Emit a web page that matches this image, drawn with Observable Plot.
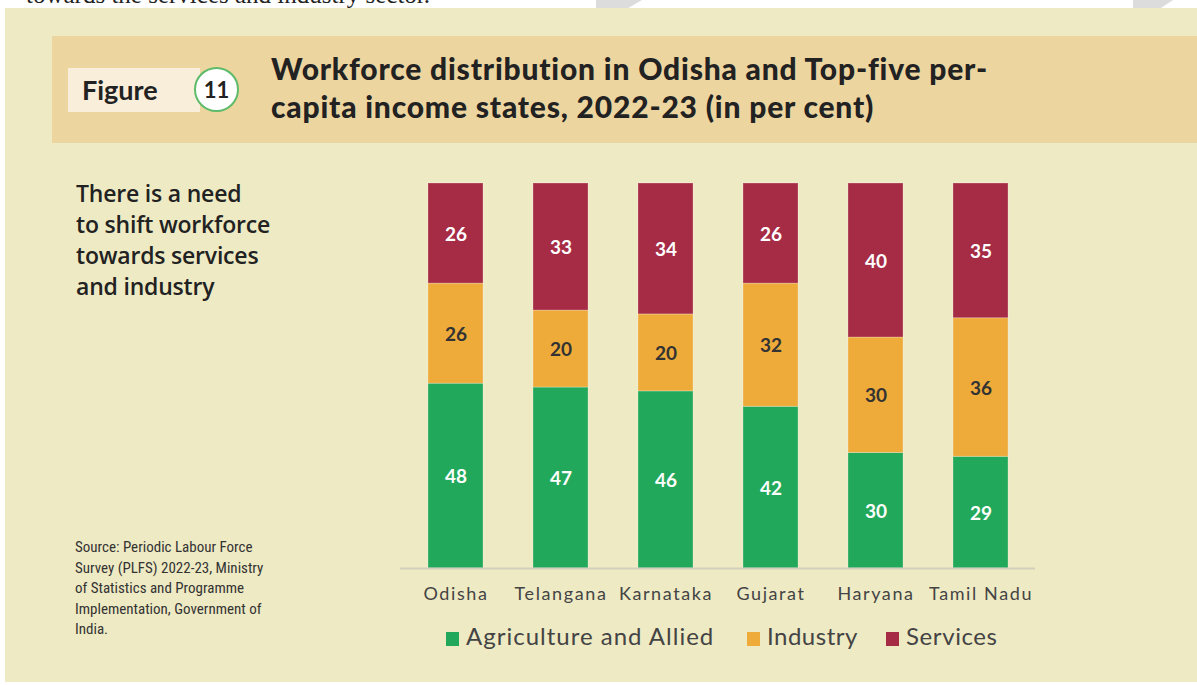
<!DOCTYPE html>
<html>
<head>
<meta charset="utf-8">
<script src="https://cdn.jsdelivr.net/npm/d3@7"></script>
<script src="https://cdn.jsdelivr.net/npm/@observablehq/plot@0.6"></script>
<style>
  html, body { margin: 0; padding: 0; background: #ffffff; }
  #page { position: relative; width: 1197px; height: 685px; overflow: hidden; background: #ffffff; }
  #topstrip { position: absolute; left: 0; top: 0; width: 1197px; height: 8px; overflow: hidden; }
  #topstrip .t { position: absolute; left: 26px; top: -19px; font-family: "Liberation Serif", serif; font-size: 25px; color: #222; white-space: nowrap; }
  .grey { position: absolute; top: 0; height: 8px; background: #dcdcdc; }
  #panel { position: absolute; left: 5px; top: 8px; width: 1192px; height: 674px; background: #EEEAC4; }
  #band { position: absolute; left: 52px; top: 36px; width: 1145px; height: 107px; background: #EDD5A0; }
  #figbox { position: absolute; left: 68px; top: 68px; width: 132px; height: 44px; background: #F9EEDA; }
  #figbox span { position: absolute; left: 14px; top: 5px; font-family: "Lato", sans-serif; font-weight: 700; font-size: 27px; color: #222; }
  #circle { position: absolute; left: 194px; top: 67px; width: 41px; height: 41px; border: 2px solid #5DBB6A; border-radius: 50%; background: #ffffff; text-align: center; line-height: 41px; font-family: "Lato", sans-serif; font-weight: 700; font-size: 22px; color: #222; }
  #title { position: absolute; left: 271px; top: 49px; font-family: "Lato", sans-serif; font-weight: 900; font-size: 30px; line-height: 38px; color: #222; letter-spacing: 0.8px; white-space: nowrap; }
  #note { position: absolute; left: 76px; top: 178px; font-family: "Open Sans", sans-serif; font-weight: 600; font-size: 23px; line-height: 31px; color: #222; letter-spacing: -0.2px; }
  #source { position: absolute; left: 75px; top: 537px; font-family: "Liberation Sans Narrow", "Roboto Condensed", "Liberation Sans", sans-serif; font-stretch: condensed; font-size: 15px; line-height: 20.6px; color: #333; }
  #chart { position: absolute; left: 380px; top: 170px; }
  #chart g[aria-label="x-axis tick label"] { letter-spacing: 1.6px; }
  #legend { position: absolute; left: 0; top: 621px; width: 1197px; font-family: "Lato", sans-serif; font-size: 24px; color: #444; }
  .lg { position: absolute; top: 0; white-space: nowrap; letter-spacing: 0.6px; }
  .sw { display: inline-block; width: 13px; height: 14px; margin-right: 7px; vertical-align: -1px; }
</style>
</head>
<body>
<div id="page">
  <div id="topstrip">
    <div class="t">towards the services and industry sector.</div>
    <div class="grey" style="left:596px;width:46px;clip-path:polygon(0 0,100% 0,70% 100%,0 100%);"></div>
    <div class="grey" style="left:1133px;width:40px;clip-path:polygon(0 0,100% 0,70% 100%,0 100%);"></div>
  </div>
  <div id="panel"></div>
  <div id="band"></div>
  <div id="figbox"><span>Figure</span></div>
  <div id="circle">11</div>
  <div id="title">Workforce distribution in Odisha and Top-five per-<br>capita income states, 2022-23 (in per cent)</div>
  <div id="note">There is a need<br>to shift workforce<br>towards services<br>and industry</div>
  <div id="source">Source: Periodic Labour Force<br>Survey (PLFS) 2022-23, Ministry<br>of Statistics and Programme<br>Implementation, Government of<br>India.</div>
  <div id="chart"></div>
  <div id="legend"></div>
</div>
<script>
const states = ["Odisha", "Telangana", "Karnataka", "Gujarat", "Haryana", "Tamil Nadu"];
const sectors = ["Agriculture and Allied", "Industry", "Services"];
const agriculture = [48, 47, 46, 42, 30, 29];
const industry = [26, 20, 20, 32, 30, 36];
const services = [26, 33, 34, 26, 40, 35];
const sectorColors = ["#22A85A", "#EEAB3A", "#A62B45"];

const seriesBySector = [agriculture, industry, services];
const rows = [];
states.forEach((s, i) => {
  sectors.forEach((sec, j) => {
    rows.push({state: s, sector: sec, value: seriesBySector[j][i]});
  });
});

const chart = Plot.plot({
  width: 670,
  height: 438,
  marginLeft: 20,
  marginRight: 15,
  marginTop: 13,
  marginBottom: 40,
  style: {background: "transparent", fontFamily: "Lato, sans-serif"},
  x: {domain: states, paddingInner: 0.48, paddingOuter: 0.24, label: null, axis: null},
  y: {domain: [0, 100], axis: null},
  color: {domain: sectors, range: sectorColors},
  marks: [
    Plot.barY(rows, {x: "state", y: "value", z: "sector", order: sectors, fill: "sector", stroke: "#ffffff", strokeOpacity: 0.25, strokeWidth: 1}),
    Plot.ruleY([0], {stroke: "#D2D0BC", strokeWidth: 2}),
    Plot.text(rows, Plot.stackY({x: "state", y: "value", z: "sector", order: sectors, text: d => String(d.value),
      fill: d => d.sector === "Industry" ? "#333333" : "#ffffff",
      fontSize: 19, fontWeight: 700, dy: 1})),
    Plot.axisX({tickSize: 0, tickPadding: 19, fontSize: 18, fill: "#444", label: null})
  ]
});
document.getElementById("chart").appendChild(chart);

const legendPos = [446, 747, 886];
const legendSpacing = ["1px", "0.5px", "0.6px"];
const legend = document.getElementById("legend");
sectors.forEach((sec, j) => {
  const el = document.createElement("div");
  el.className = "lg";
  el.style.left = legendPos[j] + "px";
  el.style.letterSpacing = legendSpacing[j];
  const sw = document.createElement("span");
  sw.className = "sw";
  sw.style.background = sectorColors[j];
  el.appendChild(sw);
  el.appendChild(document.createTextNode(sec));
  legend.appendChild(el);
});
</script>
</body>
</html>
